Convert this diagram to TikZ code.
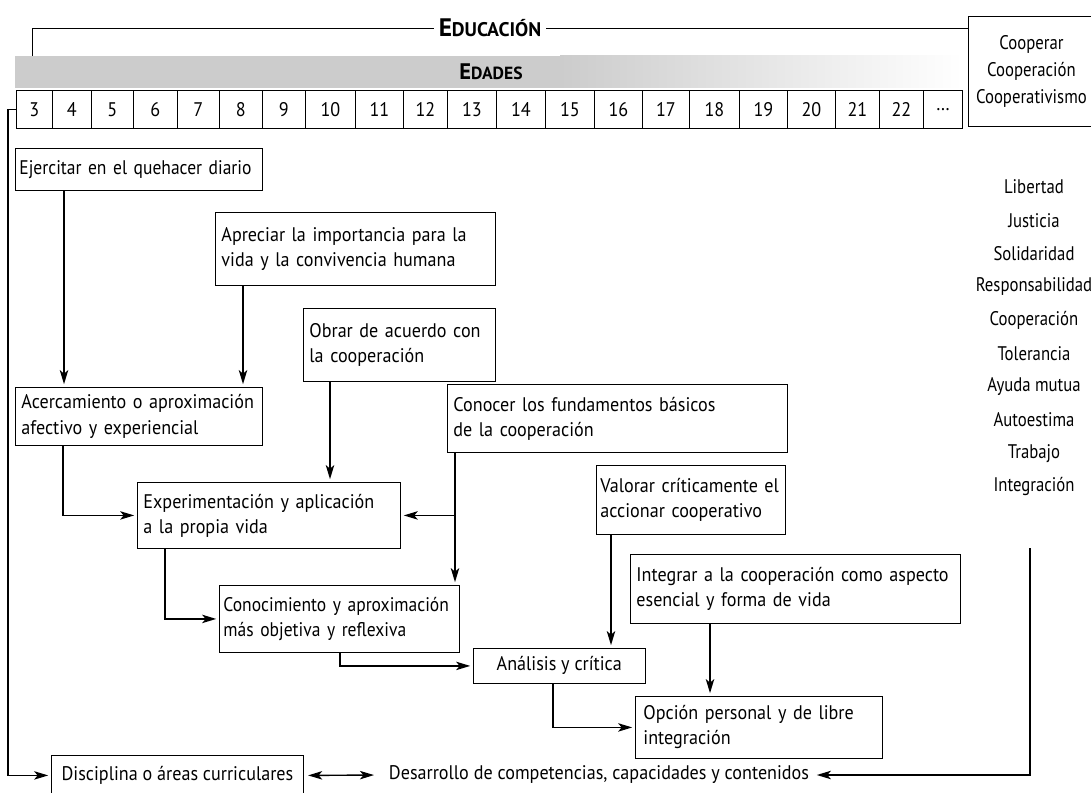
\documentclass[tikz,border=0pt]{standalone}
\usepackage{fontspec}
\setmainfont{PT Sans}[FakeStretch=0.92]
\newfontfamily\narrowfont{PT Sans}[FakeStretch=0.89]
\newfontfamily\sidefont{PT Sans}[FakeStretch=0.85]
\newfontfamily\headfont{PT Sans}
\usetikzlibrary{arrows,arrows.meta,positioning,calc}
\tikzstyle{block} = [rectangle, draw, line width=0.6pt, anchor=north west, align=left, inner xsep=0.15cm]
\tikzstyle{cell} = [rectangle, draw, line width=0.6pt, anchor=north west, inner sep=0pt, minimum height=0.95cm]
\tikzstyle{valtext} = [inner sep=1pt, font=\sidefont\fontsize{14}{17.8}\selectfont]
\tikzstyle{conn} = [line width=1pt, shorten >=2pt]
\newcommand{\fakesc}[3]{#1{\fontsize{#3}{#3}\selectfont #2}}

\begin{document}
\begin{tikzpicture}[x=0.025cm, y=-0.025cm, >={Stealth[length=10pt,width=6pt,inset=2.5pt]}, font=\fontsize{14}{17.8}\selectfont]
    \useasboundingbox (0,0) rectangle (1091,793);

    % heading band
    \fill[gray!40] (15,56) rectangle (560,88);
    \shade[left color=gray!40, right color=white] (560,56) rectangle (962,88);
    \node[font=\headfont\fontsize{18}{18}\selectfont\bfseries] (educ) at (490,28) {\fakesc{E}{DUCACIÓN}{14}};
    \node[font=\headfont\fontsize{16}{16}\selectfont\bfseries] (edades) at (491,72) {\fakesc{E}{DADES}{12.5}};

    % ages
    \foreach \n/\l/\r in {3/16/52, 4/52/91, 5/91/133, 6/133/177, 7/177/219, 8/219/262, 9/262/305,
        10/305/355, 11/355/403, 12/403/447, 13/447/496, 14/496/545, 15/545/594, 16/594/642,
        17/642/689, 18/689/739, 19/739/787, 20/787/835, 21/835/879, 22/879/923}
        \node[cell, minimum width={(\r-\l)*0.025cm}] (c\n) at (\l,90) {\n};
    \node[cell, minimum width=0.975cm] (cdots) at (923,90) {\dots};

    \node[block, align=center, minimum width=3.15cm, minimum height=2.75cm,
        font=\sidefont\fontsize{14}{19.2}\selectfont, inner xsep=0pt] (coop) at (968,16) {Cooperar\\Cooperación\\Cooperativismo};

    \draw[line width=0.6pt] (educ.west) -- (32,28) -- (32,56);
    \draw[line width=0.6pt] (educ.east) -- (coop.west |- educ.east);

    % boxes
    \node[block, text width=5.975cm, inner xsep=0.1cm, minimum height=1.05cm, font=\narrowfont\fontsize{14}{17.8}\selectfont] (ejer) at (15,148) {Ejercitar en el quehacer diario};
    \node[block, text width=6.7cm, minimum height=1.825cm] (apre) at (215,212) {Apreciar la importancia para la\\vida y la convivencia humana};
    \node[block, text width=4.5cm, minimum height=1.825cm] (obrar) at (303,308) {Obrar de acuerdo con\\la cooperación};
    \node[block, text width=5.875cm, minimum height=1.45cm] (acerc) at (15,387) {Acercamiento o aproximación\\afectivo y experiencial};
    \node[block, text width=8.2cm, minimum height=1.7cm] (conoc) at (447,384) {Conocer los fundamentos básicos\\de la cooperación};
    \node[block, text width=6.275cm, minimum height=1.65cm] (exper) at (137,482) {Experimentación y aplicación\\a la propia vida};
    \node[block, text width=4.525cm, inner xsep=0.1cm, minimum height=1.725cm] (valorar) at (596,465) {Valorar críticamente el\\accionar cooperativo};
    \node[block, text width=5.8cm, inner xsep=0.1cm, minimum height=1.675cm, font=\narrowfont\fontsize{14}{17.8}\selectfont] (conocim) at (219,585) {Conocimiento y aproximación\\más objetiva y reflexiva};
    \node[block, text width=7.95cm, minimum height=1.725cm] (integ) at (630,554) {Integrar a la cooperación como aspecto\\esencial y forma de vida};
    \node[block, minimum width=4.29cm, minimum height=0.875cm, align=center] (anal) at (473,648) {Análisis y crítica};
    \node[block, text width=5.775cm, inner xsep=0.2cm, minimum height=1.55cm] (opcion) at (635,696) {Opción personal y de libre\\integración};
    \node[block, minimum width=6.3cm, minimum height=1cm, align=center] (disc) at (51,755) {Disciplina o áreas curriculares};
    \node (desa) at (599,775) {Desarrollo de competencias, capacidades y contenidos};

    % values
    \foreach \v [count=\i from 0] in {Libertad, Justicia, Solidaridad, Responsabilidad, Cooperación,
        Tolerancia, Ayuda mutua, Autoestima, Trabajo, Integración}
        \node[valtext] (v\i) at (1034,{187+33.3*\i}) {\v};

    % connectors
    \coordinate (e1) at ([xshift=1.225cm]ejer.south west);
    \coordinate (a1) at ([xshift=0.7cm]apre.south west);
    \coordinate (o1) at ([xshift=0.675cm]obrar.south west);
    \coordinate (k1) at ([xshift=0.2cm]conoc.south west);
    \coordinate (r1) at ([xshift=0.375cm]valorar.south west);
    \coordinate (i1) at ([xshift=2cm]integ.south west);
    \coordinate (rtop) at (1030,548);

    \draw[conn, ->] (e1) -- (e1 |- acerc.north);
    \draw[conn, ->] (a1) -- (a1 |- acerc.north);
    \draw[conn, ->] (o1) -- (o1 |- exper.north);
    \draw[conn, ->] ([xshift=1.2cm]acerc.south west) |- (exper.west);
    \draw[conn, ->] (k1) -- (k1 |- conocim.north);
    \draw[conn, ->] (k1 |- exper.east) -- (exper.east);
    \draw[conn, ->] ([xshift=0.7cm]exper.south west) |- (conocim.west);
    \draw[conn, ->] ([xshift=3.025cm]conocim.south west) |- (anal.west);
    \draw[conn, ->] (r1) -- (r1 |- anal.north);
    \draw[conn, ->] (i1) -- (i1 |- opcion.north);
    \draw[conn, ->] ([xshift=1.995cm]anal.south west) |- (opcion.west);
    \draw[conn, ->] (c3.west) -- ++(-0.2cm,0) |- (disc.west);
    \draw[conn, ->] (rtop) |- (desa.east);
    \draw[conn, <->, shorten <=3pt, shorten >=0.25cm] (disc.east) -- (desa.west);
\end{tikzpicture}
\end{document}
